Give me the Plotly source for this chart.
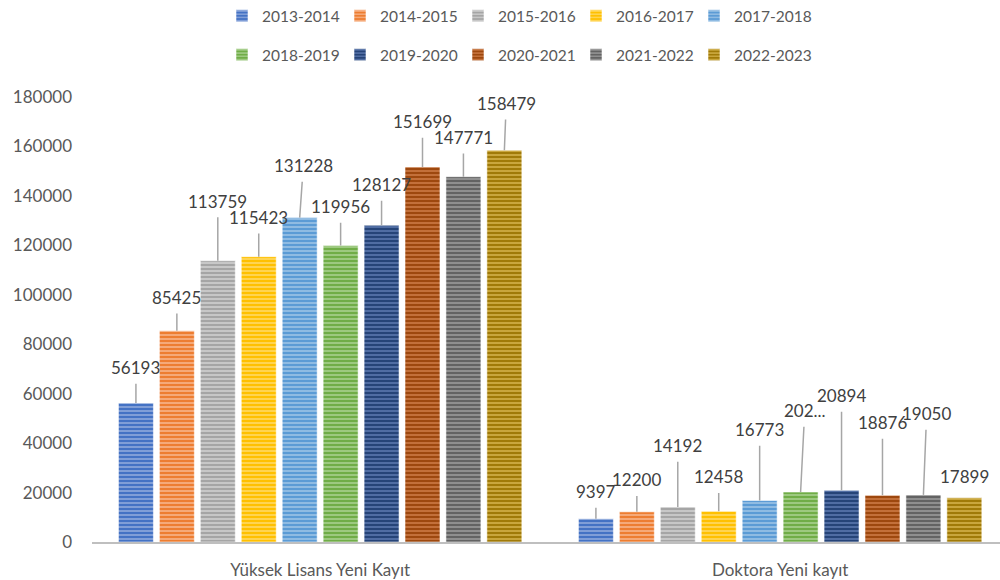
import plotly.graph_objects as go

categories = ["Yüksek Lisans Yeni Kayıt", "Doktora Yeni kayıt"]
series = ["2013-2014", "2014-2015", "2015-2016", "2016-2017", "2017-2018",
          "2018-2019", "2019-2020", "2020-2021", "2021-2022", "2022-2023"]
yuksek_lisans = [56193, 85425, 113759, 115423, 131228, 119956, 128127, 151699, 147771, 158479]
doktora = [9397, 12200, 14192, 12458, 16773, 20215, 20894, 18876, 19050, 17899]
y_ticks = [0, 20000, 40000, 60000, 80000, 100000, 120000, 140000, 160000, 180000]

# styling / label placement (value-axis height where each label sits)
colors = ["#4472C4", "#ED7D31", "#A5A5A5", "#FFC000", "#5B9BD5",
          "#70AD47", "#264478", "#9E480E", "#636363", "#A07A08"]
stripe = ["#8FAADC", "#F8B48A", "#D0D0D0", "#FFD966", "#9DC3E6",
          "#A9D18E", "#5A78AE", "#CD7A45", "#9A9A9A", "#D4B24A"]
label_y = [
    [70500, 98900, 137800, 131300, 152200, 135600, 144500, 170000, 163600, 177400],
    [20300, 25100, 38900, 26300, 45400, 53100, 59200, 48200, 51900, 26300],
]
label_dx = [
    [0, 0, 0, 0, 0.008, 0, 0, 0, 0, 0.004],
    [0, 0, 0, 0, 0, 0.009, 0, 0, 0.007, 0],
]

values = [yuksek_lisans, doktora]
texts = [[str(v) for v in yuksek_lisans], [str(v) for v in doktora]]
texts[1][5] = str(doktora[5])[:3] + "..."

n = len(series)
bargap = 0.11
groupgap = 0.146
slot = (1 - bargap) / n

fig = go.Figure()
for i, s in enumerate(series):
    fig.add_trace(go.Bar(
        name=s,
        x=[0, 1],
        y=[yuksek_lisans[i], doktora[i]],
        marker=dict(
            color=colors[i],
            line=dict(color="rgba(255,255,255,0.55)", width=1),
            pattern=dict(shape="-", fgcolor=stripe[i], bgcolor=colors[i],
                         size=4, solidity=0.4, fillmode="replace"),
        ),
        legend="legend" if i < 5 else "legend2",
        hoverinfo="skip",
    ))

annotations = []
font_lbl = dict(family="Lato, 'Noto Sans', sans-serif", size=17, color="#404040")
for c in range(2):
    for i in range(n):
        xb = c - (1 - bargap) / 2 + slot * (i + 0.5)
        v = values[c][i]
        ly = label_y[c][i]
        gap_px = (ly - v) / 180000 * 444
        if gap_px > 22:
            annotations.append(dict(
                x=xb, y=v, xref="x", yref="y",
                ax=xb + label_dx[c][i], ay=ly, axref="x", ayref="y",
                text=texts[c][i], showarrow=True, arrowhead=0,
                arrowcolor="#A6A6A6", arrowwidth=1.5, startstandoff=4,
                font=font_lbl,
            ))
        else:
            annotations.append(dict(
                x=xb + label_dx[c][i], y=ly, xref="x", yref="y",
                text=texts[c][i], showarrow=False, font=font_lbl,
            ))

legend_common = dict(orientation="h", xref="container", yref="container",
                     x=0.517, xanchor="center", yanchor="middle",
                     itemwidth=30, entrywidth=73, entrywidthmode="pixels",
                     font=dict(size=15.5, color="#595959"), traceorder="normal")

fig.update_layout(
    width=1000, height=580,
    margin=dict(l=92, r=0, t=97, b=38),
    paper_bgcolor="white", plot_bgcolor="white",
    barmode="group", bargap=bargap, bargroupgap=groupgap,
    font=dict(family="Lato, 'Noto Sans', sans-serif", size=17, color="#595959"),
    annotations=annotations,
    legend=dict(legend_common, y=0.972),
    legend2=dict(legend_common, y=0.905),
    showlegend=True,
)
fig.update_xaxes(
    range=[-0.496, 1.478], tickvals=[0, 1], ticktext=categories,
    showline=True, linecolor="#BFBFBF", linewidth=2, showgrid=False,
    zeroline=False, ticks="", ticklabelstandoff=12,
)
fig.update_yaxes(
    range=[0, 180000], tickvals=y_ticks, tickformat="d",
    showgrid=False, zeroline=False, showline=False, ticks="",
    ticklabelstandoff=19,
)

fig.write_html("out.html", config={"displayModeBar": False},
               post_script="document.body.style.margin='0';document.body.style.overflow='hidden';")
